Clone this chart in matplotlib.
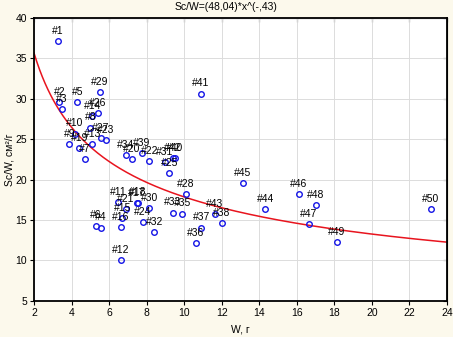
import numpy as np
import matplotlib
matplotlib.use("Agg")
import matplotlib.pyplot as plt

plt.rcParams['font.family'] = ['Liberation Sans', 'DejaVu Sans']

labels = ["#1", "#2", "#3", "#4", "#5", "#6", "#7", "#8", "#9", "#10",
          "#11", "#12", "#13", "#14", "#15", "#16", "#17", "#18", "#19", "#20",
          "#21", "#22", "#23", "#24", "#25", "#26", "#27", "#28", "#29", "#30",
          "#31", "#32", "#33", "#34", "#35", "#36", "#37", "#38", "#39", "#40",
          "#41", "#42", "#43", "#44", "#45", "#46", "#47", "#48", "#49", "#50"]
w_values = [3.26, 3.35, 3.48, 5.57, 4.31, 5.30, 4.72, 5.00, 3.88, 4.18,
            6.48, 6.62, 5.11, 5.11, 6.71, 6.62, 7.47, 7.54, 4.41, 7.21,
            6.89, 8.14, 5.84, 7.78, 9.21, 5.41, 5.57, 10.10, 5.52, 8.14,
            8.98, 8.41, 9.39, 6.89, 9.90, 10.61, 10.92, 12.00, 7.74, 9.51,
            10.90, 9.39, 11.64, 14.31, 13.12, 16.09, 16.65, 17.02, 18.13, 23.13]
scw_values = [37.12, 29.54, 28.71, 14.03, 29.54, 14.28, 22.49, 26.44, 24.38, 25.70,
              17.24, 10.03, 24.38, 27.88, 15.25, 14.15, 17.05, 17.14, 23.85, 22.49,
              16.30, 22.31, 24.87, 14.70, 20.76, 28.25, 25.16, 18.17, 30.85, 16.43,
              22.19, 13.46, 15.91, 23.02, 15.78, 12.17, 14.05, 14.57, 23.27, 22.65,
              30.65, 22.61, 15.72, 16.30, 19.52, 18.20, 14.45, 16.84, 12.22, 16.30]

fit_a = 48.04
fit_b = -0.43

x_ticks = [2, 4, 6, 8, 10, 12, 14, 16, 18, 20, 22, 24]
y_ticks = [5, 10, 15, 20, 25, 30, 35, 40]

fig = plt.figure(figsize=(4.53, 3.37), dpi=100, facecolor='#fcf9ec')
ax = fig.add_axes([0.0751, 0.1077, 0.9117, 0.8389])
ax.set_facecolor('white')

xs = np.linspace(2, 24, 300)
ax.plot(xs, fit_a * xs ** fit_b, color='#e8141e', lw=1.1, zorder=2)

ax.plot(w_values, scw_values, linestyle='none', marker='o', markersize=4,
        markerfacecolor='none', markeredgecolor='#1414e6', markeredgewidth=1.0, zorder=3)
for lab, x, y in zip(labels, w_values, scw_values):
    ax.annotate(lab, (x, y), xytext=(0, 3.8), textcoords='offset points',
                ha='center', va='bottom', fontsize=7.5, color='black', zorder=4)

ax.set_xlim(2, 24)
ax.set_ylim(5, 40)
ax.set_xticks(x_ticks)
ax.set_yticks(y_ticks)
ax.grid(True, color='#dcdcdc', lw=0.7)
ax.set_axisbelow(True)
ax.tick_params(direction='out', length=3, width=0.8, labelsize=7.5, pad=2)
for s in ax.spines.values():
    s.set_linewidth(1.3)
    s.set_color('black')

sx = ax.secondary_xaxis('top')
sx.set_xticks(x_ticks)
sx.tick_params(direction='in', length=3, width=0.8, labeltop=False)
sy = ax.secondary_yaxis('right')
sy.set_yticks(y_ticks)
sy.tick_params(direction='in', length=3, width=0.8, labelright=False)

ax.set_xlabel('W, г', fontsize=7.5, labelpad=5)
ax.set_ylabel('Sc/W, см²/г', fontsize=7.5, labelpad=1)
fig.text(0.5, 0.995, 'Sc/W=(48,04)*x^(-,43)', ha='center', va='top', fontsize=7.5)

fig.savefig('out.png', dpi=100, facecolor=fig.get_facecolor())
